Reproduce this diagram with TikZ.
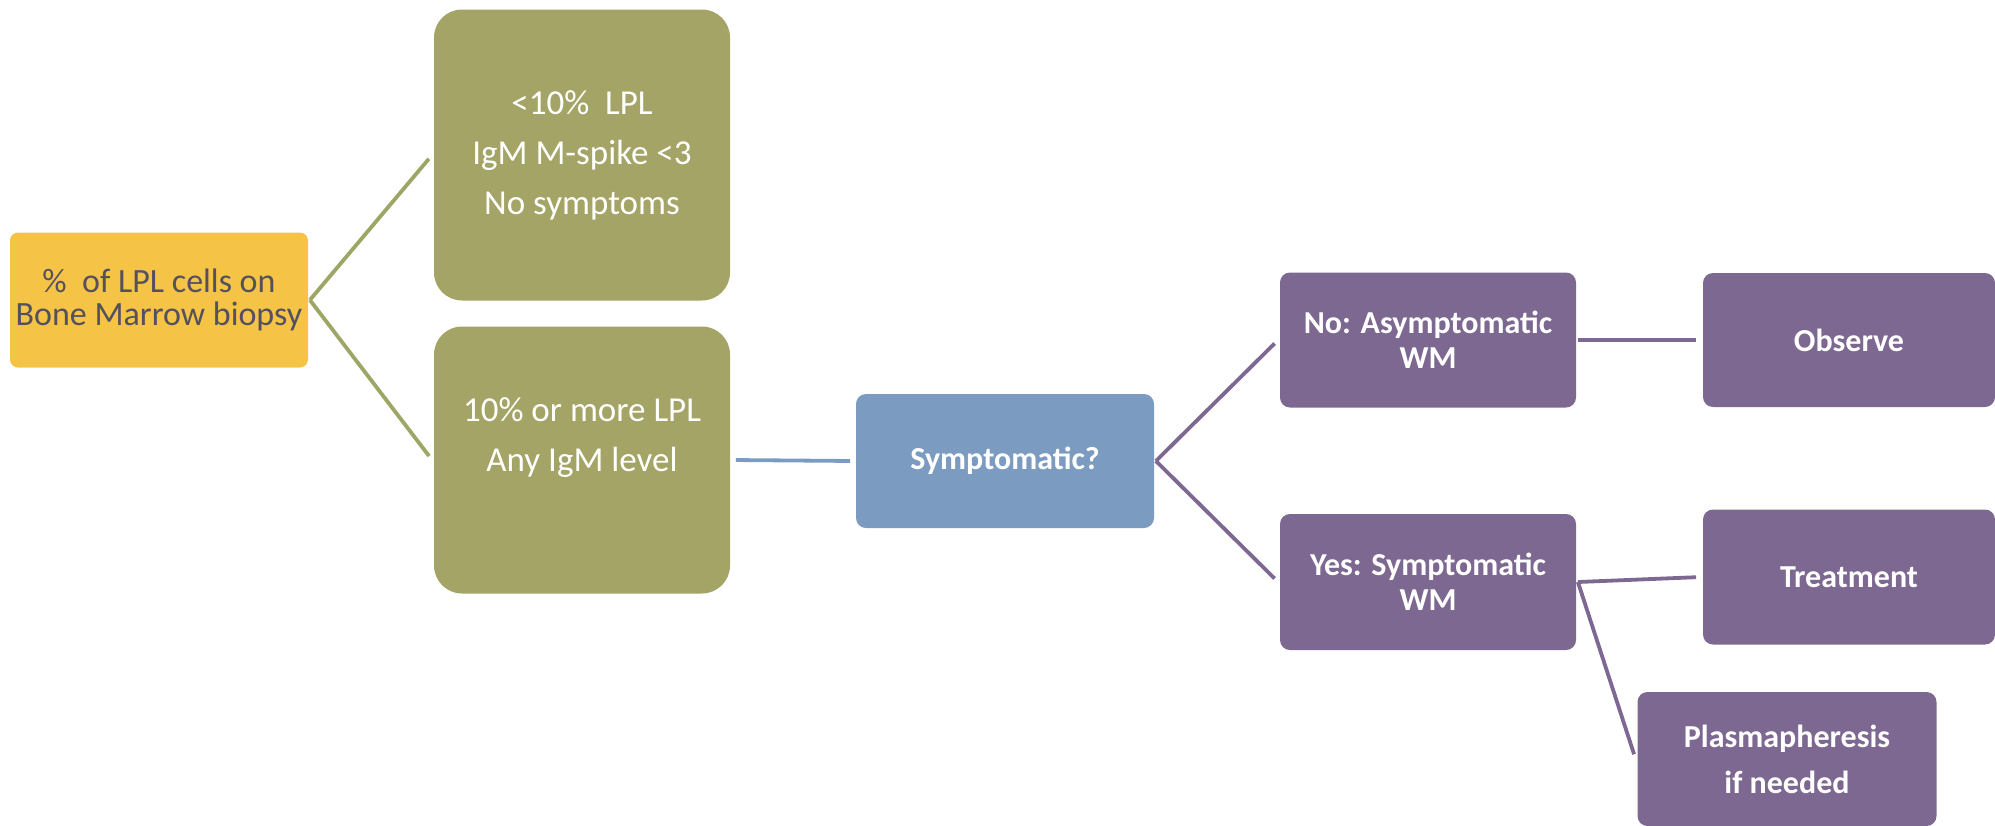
\documentclass[tikz,border=0pt]{standalone}
\usepackage{fontspec}
\setmainfont{Carlito}

\definecolor{wmyellow}{RGB}{245,196,70}
\definecolor{wmdark}{RGB}{85,80,95}
\definecolor{wmolive}{RGB}{163,164,101}
\definecolor{wmoliveline}{RGB}{158,166,102}
\definecolor{wmblue}{RGB}{123,155,192}
\definecolor{wmpurple}{RGB}{125,104,145}

\tikzset{every picture/.style={line width=1.9pt}}
\tikzset{
  wmbox/.style={rectangle, inner sep=2pt, align=center, text=white,
    font=\fontsize{16}{17.5}\selectfont\bfseries},
  yellowbox/.style={wmbox, fill=wmyellow, rounded corners=4pt, text=wmdark,
    font=\fontsize{17}{16.8}\selectfont},
  olivebox/.style={wmbox, fill=wmolive, rounded corners=14pt,
    font=\fontsize{17.5}{25}\selectfont},
  bluebox/.style={wmbox, fill=wmblue, rounded corners=5pt},
  purplebox/.style={wmbox, fill=wmpurple, rounded corners=5pt},
  olivelink/.style={draw=wmoliveline, shorten >=2.5pt},
  bluelink/.style={draw=wmblue, shorten >=2pt, shorten <=2pt},
  purplelink/.style={draw=wmpurple, shorten >=2.5pt}
}

\begin{document}
\begin{tikzpicture}[x=0.5pt,y=0.5pt,yscale=-1,xscale=1]
		\useasboundingbox (0,0) rectangle (1995,825);

		% Text Node
		\node [yellowbox, minimum width=149pt, minimum height=67.5pt] (marrow) at (159,300) {\%\ \ of LPL cells on\\Bone Marrow biopsy};

		% Text Node
		\node [olivebox, minimum width=148pt, minimum height=145.5pt] (lowlpl) at (582,155) {<10\%\ \ LPL\\IgM M-spike <3\\No symptoms};

		% Text Node
		\node [olivebox, minimum width=148pt, minimum height=133.5pt] (highlpl) at (582,460) {10\% or more LPL\\Any IgM level\\ \mbox{}};

		% Text Node
		\node [bluebox, minimum width=149pt, minimum height=67pt] (sympt) at (1005,461) {Symptomatic?};

		% Text Node
		\node [purplebox, minimum width=148pt, minimum height=67.5pt] (asym) at (1428,340) {No: Asymptomatic\\WM};

		% Text Node
		\node [purplebox, minimum width=146pt, minimum height=67pt] (observe) at (1849,340) {Observe};

		% Text Node
		\node [purplebox, minimum width=148pt, minimum height=68pt] (yessym) at (1428,582) {Yes: Symptomatic\\WM};

		% Text Node
		\node [purplebox, minimum width=146pt, minimum height=67.5pt] (treat) at (1849,577) {Treatment};

		% Text Node
		\node [purplebox, minimum width=149.5pt, minimum height=67pt, font=\fontsize{16}{23}\selectfont\bfseries] (plasma) at (1787,759) {Plasmapheresis\\if needed};

		%Straight Lines
		\draw [olivelink]  (marrow.east) -- (lowlpl.west) ;
		\draw [olivelink]  (marrow.east) -- (highlpl.west) ;

		%Straight Lines
		\draw [bluelink]  (highlpl.east) -- (sympt.west) ;

		%Straight Lines
		\draw [purplelink]  (sympt.east) -- (asym.west) ;
		\draw [purplelink]  (sympt.east) -- (yessym.west) ;
		\draw [purplelink]  (asym.east) -- (observe.west) ;
		\draw [purplelink]  (yessym.east) -- (treat.west) ;
		\draw [purplelink]  (yessym.east) -- (plasma.west) ;
	\end{tikzpicture}
\end{document}
